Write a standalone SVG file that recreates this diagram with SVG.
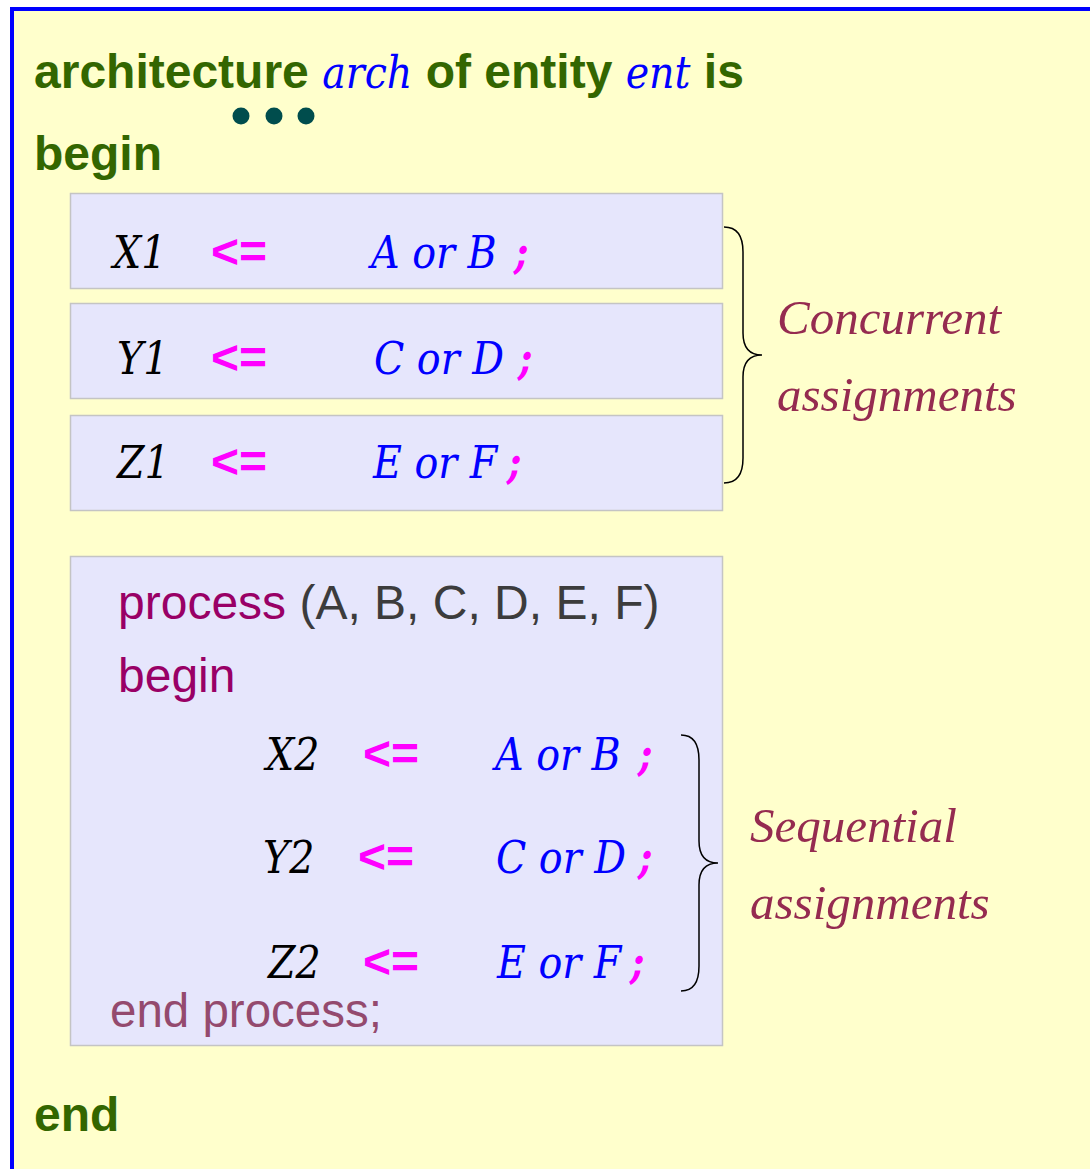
<svg xmlns="http://www.w3.org/2000/svg" width="1090" height="1169" viewBox="0 0 1090 1169">
<style>
.kw{font-family:"Liberation Sans",Arial,sans-serif;font-weight:bold;font-size:48px;fill:#336600}
.it{font-family:"DejaVu Serif Condensed","DejaVu Serif",serif;font-style:italic;font-size:44px}
.blue{fill:#0000ff}
.var{fill:#000000}
.op{font-family:"Liberation Sans",Arial,sans-serif;font-weight:bold;font-size:48px;fill:#ff00ff}
.semi{font-family:"DejaVu Serif Condensed","DejaVu Serif",serif;font-style:italic;font-weight:bold;font-size:44px;fill:#ff00ff}
.box{fill:#e6e6fc;stroke:#c4c4c4;stroke-width:1.5}
.lbl{font-family:"Liberation Serif",serif;font-style:italic;font-size:49px;fill:#952b50}
.proc{font-family:"Liberation Sans",Arial,sans-serif;font-size:48px}
.brace{fill:none;stroke:#000;stroke-width:1.5}
</style>
<rect x="0" y="0" width="1090" height="1169" fill="#ffffff"/>
<rect x="12" y="9" width="1090" height="1170" fill="#ffffcc" stroke="#0000ff" stroke-width="4"/>
<g id="header">
<text x="34" y="88" class="kw">architecture <tspan class="it blue" style="font-weight:normal">arch</tspan> of entity <tspan class="it blue" style="font-weight:normal">ent</tspan> is</text>
<circle cx="241" cy="116" r="8.5" fill="#004d4d"/>
<circle cx="274" cy="116" r="8.5" fill="#004d4d"/>
<circle cx="306" cy="116" r="8.5" fill="#004d4d"/>
<text x="34" y="170" class="kw">begin</text>
</g>
<g id="stmt-x1">
<rect x="70.5" y="193.5" width="652" height="95" class="box"/>
<text x="113" y="268" class="it var">X1</text>
<text x="211" y="268" class="op">&lt;=</text>
<text x="371" y="268" class="it blue">A or B</text>
<text x="514" y="268" class="semi">;</text>
</g>
<g id="stmt-y1">
<rect x="70.5" y="303.5" width="652" height="95" class="box"/>
<text x="117" y="374" class="it var">Y1</text>
<text x="211" y="374" class="op">&lt;=</text>
<text x="374" y="374" class="it blue">C or D</text>
<text x="518" y="374" class="semi">;</text>
</g>
<g id="stmt-z1">
<rect x="70.5" y="415.5" width="652" height="95" class="box"/>
<text x="117" y="478" class="it var">Z1</text>
<text x="211" y="478" class="op">&lt;=</text>
<text x="373" y="478" class="it blue">E or F</text>
<text x="507" y="478" class="semi">;</text>
</g>
<g id="process">
<rect x="70.5" y="556.5" width="652" height="489" class="box"/>
<text x="118" y="619" class="proc"><tspan fill="#990066">process</tspan><tspan fill="#3c3c3c"> (A, B, C, D, E, F)</tspan></text>
<text x="118" y="692" class="proc" fill="#990066">begin</text>
<text x="266" y="770" class="it var">X2</text>
<text x="363" y="770" class="op">&lt;=</text>
<text x="495" y="770" class="it blue">A or B</text>
<text x="638" y="770" class="semi">;</text>
<text x="263" y="873" class="it var">Y2</text>
<text x="358" y="873" class="op">&lt;=</text>
<text x="496" y="873" class="it blue">C or D</text>
<text x="638" y="873" class="semi">;</text>
<text x="268" y="978" class="it var">Z2</text>
<text x="363" y="978" class="op">&lt;=</text>
<text x="497" y="978" class="it blue">E or F</text>
<text x="630" y="978" class="semi">;</text>
<text x="110" y="1027" class="proc" fill="#944a6e" style="font-size:47.5px">end process;</text>
</g>
<g id="connectors">
<path class="brace" d="M724,227 Q743,227 743,252 L743,333 Q743,355 762,355 Q743,355 743,377 L743,458 Q743,483 724,483"/>
<path class="brace" d="M681,735 Q699,735 699,760 L699,841 Q699,863 718,863 Q699,863 699,885 L699,966 Q699,991 681,991"/>
</g>
<g id="label-concurrent">
<text x="777" y="334" class="lbl">Concurrent</text>
<text x="777" y="411" class="lbl">assignments</text>
</g>
<g id="label-sequential">
<text x="750" y="842" class="lbl">Sequential</text>
<text x="750" y="919" class="lbl">assignments</text>
</g>
<g id="footer">
<text x="34" y="1131" class="kw">end</text>
</g>
</svg>
